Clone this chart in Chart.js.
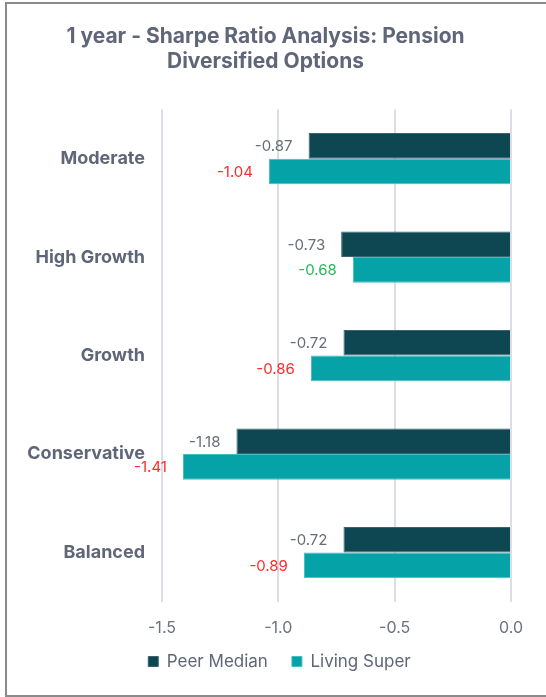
<!DOCTYPE html>
<html lang="en">
<head>
    <meta charset="UTF-8">
    <title>1 year - Sharpe Ratio Analysis</title>
    <script src="https://cdn.jsdelivr.net/npm/chart.js"></script>
    <style>
        body { margin: 0; background: #fff; }
        .frame { position: absolute; left: 5px; top: 2px; width: 580px; height: 691px; border: 2px solid #8a8a8a; }
        .wrap { position: absolute; left: 0; top: 0; width: 546px; height: 697px; }
    </style>
</head>
<body>
    <div class="frame"></div>
    <div class="wrap">
        <canvas id="sharpeChart" width="546" height="697"></canvas>
    </div>

    <script>
        // Chart data
        const categories = ['Moderate', 'High Growth', 'Growth', 'Conservative', 'Balanced'];
        const peerMedian = [-0.87, -0.73, -0.72, -1.18, -0.72];
        const livingSuper = [-1.04, -0.68, -0.86, -1.41, -0.89];
        const xTicks = [-1.5, -1.0, -0.5, 0.0];

        const textGrey = '#5f6678';

        // draws the value next to the end of each bar
        const valueLabels = {
            id: 'valueLabels',
            afterDatasetsDraw(chart) {
                const ctx = chart.ctx;
                ctx.save();
                ctx.font = '15px Inter';
                ctx.textAlign = 'right';
                ctx.textBaseline = 'middle';
                chart.data.datasets.forEach((ds, di) => {
                    chart.getDatasetMeta(di).data.forEach((bar, i) => {
                        const v = ds.data[i];
                        if (di === 0) {
                            ctx.fillStyle = '#676c76';
                        } else {
                            ctx.fillStyle = v < peerMedian[i] ? '#ff2a2a' : '#22b85c';
                        }
                        ctx.fillText(v.toFixed(2), bar.x - 16, bar.y + 1);
                    });
                });
                ctx.restore();
            }
        };

        // move the legend a bit right and up, like the original
        const legendShift = {
            id: 'legendShift',
            afterLayout(chart) {
                const lg = chart.legend;
                lg.left += 14;
                lg.right += 14;
                lg.top -= 26;
                lg.bottom -= 26;
            }
        };

        new Chart(document.getElementById('sharpeChart'), {
            type: 'bar',
            data: {
                labels: categories,
                datasets: [{
                    label: 'Peer Median',
                    data: peerMedian,
                    backgroundColor: '#0e4652',
                    borderColor: '#3a6470',
                    borderWidth: 1
                }, {
                    label: 'Living Super',
                    data: livingSuper,
                    backgroundColor: '#05a2a8',
                    borderColor: '#45bcc0',
                    borderWidth: 1
                }]
            },
            options: {
                indexAxis: 'y',
                responsive: false,
                animation: false,
                layout: { padding: { top: 4, left: 20, right: 35, bottom: -9 } },
                datasets: {
                    bar: { categoryPercentage: 0.52, barPercentage: 1.0 }
                },
                scales: {
                    x: {
                        min: -1.5,
                        max: 0,
                        afterBuildTicks: axis => { axis.ticks = xTicks.map(v => ({ value: v })); },
                        ticks: {
                            callback: v => v.toFixed(1),
                            color: '#6b7180',
                            font: { family: 'Inter', size: 16 },
                            padding: 17
                        },
                        grid: { color: '#dddde5', lineWidth: 2, drawTicks: false },
                        border: { display: false }
                    },
                    y: {
                        afterFit: axis => { axis.width = 142; },
                        ticks: {
                            color: textGrey,
                            font: { family: 'Inter', size: 18, weight: 'bold' },
                            padding: 9
                        },
                        grid: { display: false },
                        border: { display: false }
                    }
                },
                plugins: {
                    title: {
                        display: true,
                        text: ['1 year - Sharpe Ratio Analysis: Pension', 'Diversified Options'],
                        color: textGrey,
                        font: { family: 'Inter', size: 21, weight: 'bold', lineHeight: 1.2 },
                        padding: { top: 20, bottom: 35 }
                    },
                    legend: {
                        position: 'bottom',
                        labels: {
                            boxWidth: 10,
                            boxHeight: 10,
                            padding: 24,
                            color: textGrey,
                            font: { family: 'Inter', size: 17 }
                        }
                    },
                    tooltip: { enabled: false }
                }
            },
            plugins: [valueLabels, legendShift]
        });
    </script>
</body>
</html>
